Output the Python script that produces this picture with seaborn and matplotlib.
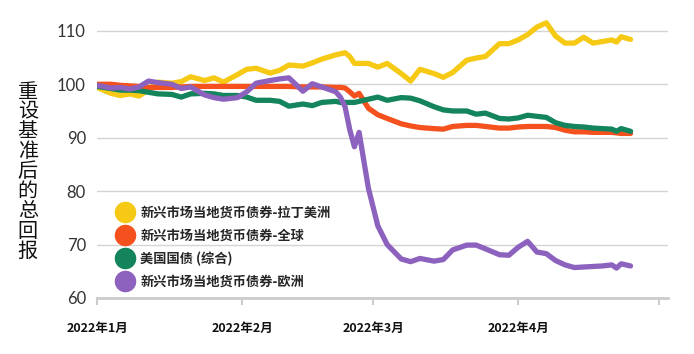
import pandas as pd
import matplotlib.pyplot as plt
from matplotlib.lines import Line2D
import seaborn as sns

# 数据
dates = [
    "2022-01-01", "2022-01-04", "2022-01-06", "2022-01-08", "2022-01-10", "2022-01-12",
    "2022-01-14", "2022-01-17", "2022-01-19", "2022-01-21", "2022-01-24", "2022-01-26",
    "2022-01-28", "2022-01-31", "2022-02-02", "2022-02-04", "2022-02-07", "2022-02-09",
    "2022-02-11", "2022-02-14", "2022-02-16", "2022-02-18", "2022-02-21", "2022-02-22",
    "2022-02-23", "2022-02-24", "2022-02-25", "2022-02-26", "2022-02-28", "2022-03-02",
    "2022-03-04", "2022-03-07", "2022-03-09", "2022-03-11", "2022-03-14", "2022-03-16",
    "2022-03-18", "2022-03-21", "2022-03-23", "2022-03-25", "2022-03-28", "2022-03-30",
    "2022-04-01", "2022-04-03", "2022-04-05", "2022-04-07", "2022-04-09", "2022-04-11",
    "2022-04-13", "2022-04-15", "2022-04-17", "2022-04-19", "2022-04-21", "2022-04-22",
    "2022-04-23", "2022-04-25",
]

latam = [
    99.4, 98.3, 97.9, 98.2, 97.8, 99.0, 100.4, 100.2, 100.5, 101.4, 100.7, 101.2,
    100.4, 101.8, 102.8, 103.0, 102.1, 102.6, 103.6, 103.4, 104.0, 104.7, 105.5, 105.7,
    105.9, 105.2, 103.9, 103.9, 103.9, 103.2, 103.9, 102.0, 100.6, 102.8, 102.0, 101.3,
    102.2, 104.5, 104.9, 105.2, 107.6, 107.6, 108.3, 109.3, 110.7, 111.5, 109.0, 107.7,
    107.7, 108.8, 107.7, 108.0, 108.3, 107.9, 108.9, 108.4,
]
em_global = [
    100.0, 100.0, 99.8, 99.7, 99.6, 99.4, 99.4, 99.4, 99.5, 99.6, 99.6, 99.6,
    99.6, 99.6, 99.6, 99.6, 99.6, 99.6, 99.6, 99.5, 99.5, 99.5, 99.4, 99.4,
    99.3, 98.6, 97.8, 98.3, 95.5, 94.3, 93.6, 92.6, 92.2, 91.9, 91.7, 91.6,
    92.1, 92.3, 92.3, 92.1, 91.8, 91.8, 92.0, 92.1, 92.1, 92.1, 91.9, 91.4,
    91.1, 91.1, 91.0, 91.0, 91.0, 90.9, 90.8, 90.8,
]
us_treasury = [
    99.6, 99.2, 98.9, 98.9, 98.8, 98.5, 98.2, 98.1, 97.6, 98.2, 98.3, 98.2,
    97.9, 97.9, 97.6, 97.0, 97.0, 96.8, 95.9, 96.3, 96.0, 96.6, 96.8, 96.6,
    96.6, 96.6, 96.6, 96.8, 97.2, 97.6, 97.0, 97.5, 97.4, 96.9, 95.8, 95.2,
    95.0, 95.0, 94.4, 94.6, 93.6, 93.5, 93.7, 94.2, 94.0, 93.8, 92.8, 92.3,
    92.1, 92.0, 91.8, 91.7, 91.6, 91.2, 91.7, 91.2,
]
europe = [
    99.8, 99.3, 99.4, 99.1, 99.5, 100.6, 100.3, 100.0, 99.2, 99.5, 98.0, 97.5,
    97.2, 97.5, 98.6, 100.2, 100.7, 101.0, 101.2, 98.7, 100.1, 99.5, 98.6, 97.6,
    95.8, 91.5, 88.3, 91.0, 80.5, 73.5, 70.0, 67.3, 66.8, 67.4, 66.9, 67.2,
    69.0, 69.9, 69.9, 69.2, 68.1, 68.0, 69.5, 70.6, 68.6, 68.3, 67.0, 66.2,
    65.7, 65.8, 65.9, 66.0, 66.2, 65.6, 66.4, 66.0,
]

series_names = [
    "新兴市场当地货币债券-拉丁美洲",
    "新兴市场当地货币债券-全球",
    "美国国债 (综合)",
    "新兴市场当地货币债券-欧洲",
]
series_colors = ["#F6C915", "#F4511E", "#13845B", "#8C62BE"]
month_ticks = ["2022-01-01", "2022-02-01", "2022-03-01", "2022-04-01", "2022-05-01"]
month_labels = ["2022年1月", "2022年2月", "2022年3月", "2022年4月", ""]
y_ticks = [60, 70, 80, 90, 100, 110]
y_label = "重设基准后的总回报"

frames = []
for name, vals in zip(series_names, [latam, em_global, us_treasury, europe]):
    frames.append(pd.DataFrame({"date": pd.to_datetime(dates), "value": vals, "series": name}))
df = pd.concat(frames, ignore_index=True)

sns.set_theme(style="white")
plt.rcParams["font.family"] = ["Noto Sans CJK SC", "DejaVu Sans"]

fig = plt.figure(figsize=(6.94, 3.54), dpi=100)
ax = fig.add_axes([0.1398, 0.1582, 0.8227, 0.80])

sns.lineplot(data=df, x="date", y="value", hue="series", hue_order=series_names,
             palette=series_colors, linewidth=3.8, legend=False, ax=ax)

ax.set_ylim(60, 113)
ax.set_xlim(pd.Timestamp("2022-01-01"), pd.Timestamp("2022-05-03"))
ax.set_yticks(y_ticks)
ax.set_yticklabels([str(v) for v in y_ticks], family="Lato", fontsize=12, color="#333333")
ax.set_xticks(pd.to_datetime(month_ticks))
ax.set_xticklabels(month_labels, fontsize=9, fontweight="bold", color="#111111")
ax.tick_params(axis="y", length=0, pad=8)
ax.tick_params(axis="x", length=5, width=1.5, color="#cccccc", pad=12, direction="out")
ax.xaxis.set_ticks_position("bottom")
ax.grid(axis="y", color="#d4d4d4", linewidth=1)
ax.grid(axis="x", visible=False)
for side in ["top", "right", "left"]:
    ax.spines[side].set_visible(False)
ax.spines["bottom"].set_color("#cccccc")
ax.spines["bottom"].set_linewidth(2)
ax.set_xlabel("")
ax.set_ylabel("")

handles = [Line2D([0], [0], marker="o", linestyle="", markersize=14.5,
                  markerfacecolor=c, markeredgecolor=c) for c in series_colors]
leg = ax.legend(handles, series_names, loc="upper left", bbox_to_anchor=(0.016, 0.345),
                frameon=False, handletextpad=0.2, labelspacing=0.68, borderaxespad=0,
                prop={"size": 9.5, "weight": "bold"})

fig.text(0.040, 0.515, "\n".join(y_label), ha="center", va="center",
         fontsize=14.5, linespacing=0.93, color="#111111")

fig.savefig("out.png", dpi=100)
